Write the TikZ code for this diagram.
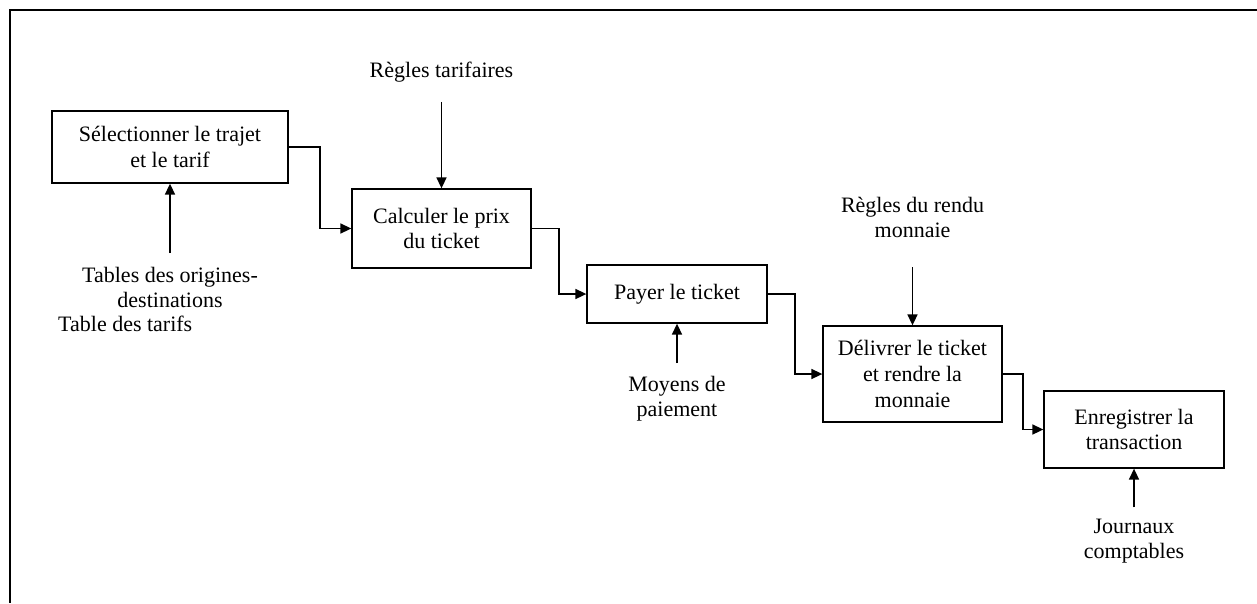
\documentclass[tikz,border=0pt]{standalone}
\usepackage{fontspec}
\setmainfont{Liberation Serif}
\usetikzlibrary{arrows.meta,calc}
\begin{document}
\begin{tikzpicture}[x=1pt,y=-1pt,
  every node/.style={font=\fontsize{22}{25.7}\selectfont, inner sep=0pt, align=center},
  proc/.style={draw, line width=1.3pt},
  arr/.style={-{Triangle[length=11pt,width=10pt]}, line width=1.6pt},
  frame/.style={line width=2.6pt}]
\useasboundingbox (0,0) rectangle (1257,603);
\draw[frame] (1257,10) -- (10,10) -- (10,603);

% process boxes
\node[proc, minimum width=236pt, minimum height=72pt] (b1) at (170,147) {Sélectionner le trajet\\et le tarif};
\node[proc, minimum width=179pt, minimum height=79pt] (b2) at (441.5,228.5) {Calculer le prix\\du ticket};
\node[proc, minimum width=180pt, minimum height=58pt] (b3) at (677,294) {Payer le ticket};
\node[proc, minimum width=179pt, minimum height=96pt] (b4) at (912.5,374) {Délivrer le ticket\\et rendre la\\monnaie};
\node[proc, minimum width=180pt, minimum height=77pt] (b5) at (1134,429.5) {Enregistrer la\\transaction};

% labels
\node[anchor=base] (rt) at (441.5,77) {Règles tarifaires};
\node[anchor=south] (rr) at (912.5,238.3) {Règles du rendu\\monnaie};
\node[anchor=north] (mp) at (677,375.7) {Moyens de\\paiement};
\node[anchor=north] (jc) at (1134,518.4) {Journaux\\comptables};
\node[anchor=north] (to) at (170,266.7) {Tables des origines-\\destinations};
\node[anchor=base west] (tt) at (58,331) {Table des tarifs};

% flow connectors
\draw[arr] (b1.east) -| ($(b1.east)!.5!(b2.west)$) |- (b2.west);
\draw[arr] (b2.east) -| ($(b2.east)!.5!(b3.west)$) |- (b3.west);
\draw[arr] (b3.east) -| ($(b3.east)!.5!(b4.west)$) |- (b4.west);
\draw[arr] (b4.east) -| ($(b4.east)!.5!(b5.west)$) |- (b5.west);

% control / resource arrows
\draw[arr, shorten <=20pt] (rt.south) -- (b2.north);
\draw[arr, shorten <=29pt] (rr.south) -- (b4.north);
\draw[arr, shorten <=12.7pt] (mp.north) -- (b3.south);
\draw[arr, shorten <=11pt] (jc.north) -- (b5.south);
\draw[arr, shorten <=13.7pt] (to.north) -- (b1.south);
\end{tikzpicture}
\end{document}
